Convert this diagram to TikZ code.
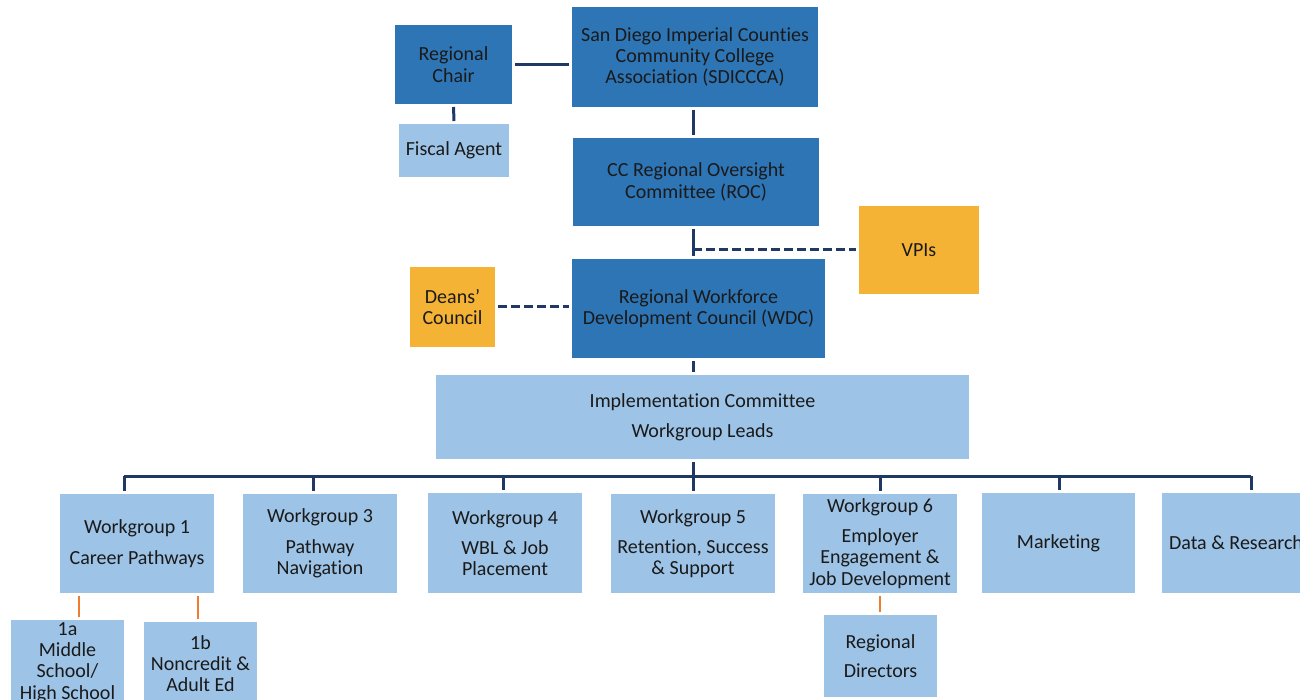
\documentclass[tikz,border=0pt]{standalone}
\usepackage{fontspec}
\setmainfont{Carlito}[Ligatures=NoCommon]
\definecolor{dblue}{HTML}{2E75B6}
\definecolor{lblue}{HTML}{9DC3E6}
\definecolor{gold}{HTML}{F5B335}
\definecolor{navy}{HTML}{203864}
\definecolor{orng}{HTML}{ED7D31}
\definecolor{txt}{HTML}{1A1A1A}
\begin{document}
\begin{tikzpicture}[x=1pt,y=-1pt,
  box/.style={rectangle,inner sep=0pt,outer sep=0pt,align=center,text=txt,
    font=\fontsize{20}{21.3}\selectfont},
  dbox/.style={box,fill=dblue},
  lbox/.style={box,fill=lblue},
  obox/.style={box,fill=gold},
  conn/.style={draw=navy,line width=3pt,shorten <=3pt,shorten >=3pt},
  dconn/.style={conn,dash pattern=on 9pt off 4pt},
  oconn/.style={draw=orng,line width=2.5pt,shorten <=3pt,shorten >=3pt}]
\useasboundingbox (0,0) rectangle (1300,700);
\clip (0,0) rectangle (1300,700);
% top part
\node[dbox,minimum width=117pt,minimum height=79pt] (chair) at (453.5,64.5) {Regional\\Chair};
\node[dbox,minimum width=246pt,minimum height=100pt] (sdi) at (695,57) {San Diego Imperial Counties\\Community College\\Association (SDICCCA)};
\node[lbox,minimum width=110pt,minimum height=53pt] (fiscal) at (454,150.5) {Fiscal Agent};
\node[dbox,minimum width=246pt,minimum height=88pt] (roc) at (696,182) {CC Regional Oversight\\Committee (ROC)};
\node[obox,minimum width=120pt,minimum height=88pt] (vpi) at (919,250) {VPIs};
\node[dbox,minimum width=253pt,minimum height=99pt] (wdc) at (698.5,308.5) {Regional Workforce\\Development Council (WDC)};
\node[obox,minimum width=85pt,minimum height=80pt] (deans) at (452.5,307) {Deans'\\Council};
\node[lbox,minimum width=533pt,minimum height=84pt] (impl) at (702.5,417) {Implementation Committee\\[9pt]Workgroup Leads};
% workgroups
\node[lbox,minimum width=154pt,minimum height=99pt] (wg1) at (137,543.5) {Workgroup 1\\[10pt]Career Pathways};
\node[lbox,minimum width=154pt,minimum height=99pt] (wg3) at (320,543.5) {Workgroup 3\\[9pt]Pathway\\Navigation};
\node[lbox,minimum width=154pt,minimum height=100pt] (wg4) at (505,543) {Workgroup 4\\[9pt]WBL \& Job\\Placement};
\node[lbox,minimum width=164pt,minimum height=99pt] (wg5) at (693,543.5) {Workgroup 5\\[9pt]Retention, Success\\\& Support};
\node[lbox,minimum width=154pt,minimum height=99pt] (wg6) at (880,543.5) {Workgroup 6\\[9pt]Employer\\Engagement \&\\Job Development};
\node[lbox,minimum width=153pt,minimum height=100pt] (mkt) at (1058.5,543) {Marketing};
\node[lbox,minimum width=148pt,minimum height=100pt] (data) at (1236,543) {Data \& Research};
% sub boxes
\node[lbox,minimum width=113pt,minimum height=85pt] (w1a) at (67.5,662.5) {1a\\Middle\\School/\\High School};
\node[lbox,minimum width=113pt,minimum height=83pt] (w1b) at (200.5,663.5) {1b\\Noncredit \&\\Adult Ed};
\node[lbox,minimum width=113pt,minimum height=82pt] (rd) at (880.5,656) {Regional\\[8pt]Directors};
% coordinates
\coordinate (trunk) at (693,0);
\coordinate (bus) at (0,476);
\coordinate (x1) at (124,0);
\coordinate (x3) at (313,0);
\coordinate (x4) at (503,0);
\coordinate (x6) at (880,0);
\coordinate (xm) at (1059,0);
\coordinate (xd) at (1251,0);
\coordinate (xa) at (79,0);
\coordinate (xb) at (198,0);
% connectors
\draw[conn] (chair.east) -- (chair.east -| sdi.west);
\draw[conn] (chair.south) -- (fiscal.north);
\draw[conn] (sdi.south -| trunk) -- (roc.north -| trunk);
\draw[conn] (roc.south -| trunk) -- (wdc.north -| trunk);
\draw[dconn,shorten <=0pt] (vpi.west -| trunk) -- (vpi.west);
\draw[dconn] (deans.east) -- (deans.east -| wdc.west);
\draw[conn] (wdc.south -| trunk) -- (impl.north -| trunk);
\draw[conn] (impl.south -| trunk) -- (wg5.north -| trunk);
\draw[draw=navy,line width=3pt] (x1 |- bus) -- (xd |- bus);
\draw[conn,shorten <=0pt] (x1 |- bus) -- (wg1.north -| x1);
\draw[conn,shorten <=0pt] (x3 |- bus) -- (wg3.north -| x3);
\draw[conn,shorten <=0pt] (x4 |- bus) -- (wg4.north -| x4);
\draw[conn,shorten <=0pt] (x6 |- bus) -- (wg6.north -| x6);
\draw[conn,shorten <=0pt] (xm |- bus) -- (mkt.north -| xm);
\draw[conn,shorten <=0pt] (xd |- bus) -- (data.north -| xd);
\draw[oconn] (wg1.south -| xa) -- (w1a.north -| xa);
\draw[oconn] (wg1.south -| xb) -- (w1b.north -| xb);
\draw[oconn] (wg6.south -| x6) -- (rd.north -| x6);
\end{tikzpicture}
\end{document}
